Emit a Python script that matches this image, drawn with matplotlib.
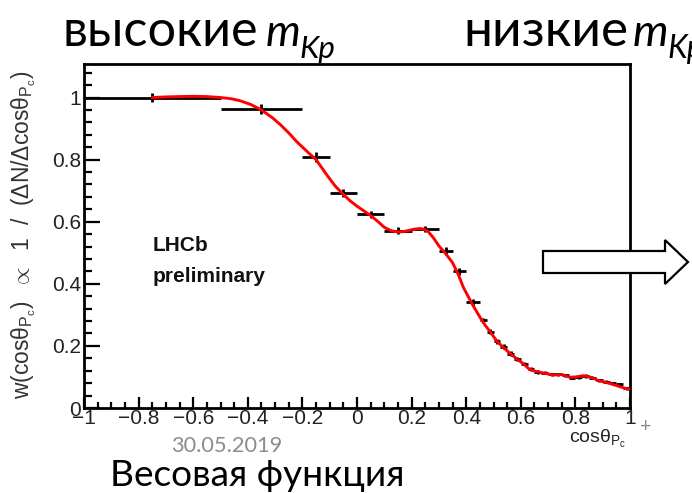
import matplotlib
matplotlib.use("Agg")
import matplotlib.pyplot as plt
from matplotlib.patches import Polygon
from matplotlib.ticker import MultipleLocator, FixedLocator, FuncFormatter

# Binned weights w(cos theta_Pc) with bin half-widths and uncertainties
bin_center = [-0.75, -0.35, -0.15, -0.05, 0.05, 0.15, 0.25, 0.325, 0.375, 0.425,
              0.4625, 0.4875, 0.5125, 0.5375, 0.5625, 0.5875, 0.6125, 0.6375,
              0.6625, 0.6875, 0.7125, 0.7375, 0.7625, 0.7875, 0.8125, 0.8375,
              0.8625, 0.8875, 0.9125, 0.9375, 0.9625, 0.9875]
bin_halfwidth = [0.25, 0.15, 0.05, 0.05, 0.05, 0.05, 0.05, 0.025, 0.025, 0.025,
                 0.0125, 0.0125, 0.0125, 0.0125, 0.0125, 0.0125, 0.0125, 0.0125,
                 0.0125, 0.0125, 0.0125, 0.0125, 0.0125, 0.0125, 0.0125, 0.0125,
                 0.0125, 0.0125, 0.0125, 0.0125, 0.0125, 0.0125]
weight = [1.000, 0.963, 0.808, 0.692, 0.624, 0.571, 0.577, 0.505, 0.440, 0.340,
          0.282, 0.245, 0.215, 0.198, 0.175, 0.158, 0.143, 0.125,
          0.115, 0.113, 0.108, 0.108, 0.106, 0.098, 0.099, 0.103,
          0.098, 0.090, 0.085, 0.080, 0.077, 0.064]
weight_err = [0.016, 0.015, 0.015, 0.013, 0.011, 0.012, 0.010, 0.012, 0.012, 0.012,
              0.009, 0.008, 0.008, 0.007, 0.007, 0.007, 0.006, 0.006,
              0.006, 0.005, 0.005, 0.005, 0.005, 0.005, 0.005, 0.005,
              0.005, 0.005, 0.005, 0.005, 0.005, 0.005]

# Smooth parametrisation of the weight function
fit_x = [-0.75, -0.70, -0.65, -0.60, -0.55, -0.50, -0.46, -0.43, -0.39, -0.35,
         -0.31, -0.28, -0.25, -0.22, -0.185, -0.15, -0.13, -0.11, -0.08, -0.05,
         -0.025, 0.00, 0.05, 0.08, 0.10, 0.125, 0.15, 0.17, 0.19, 0.21, 0.23,
         0.245, 0.26, 0.28, 0.30, 0.325, 0.35, 0.37, 0.39, 0.42, 0.45, 0.47,
         0.49, 0.51, 0.53, 0.56, 0.59, 0.61, 0.63, 0.65, 0.67, 0.72, 0.75,
         0.78, 0.80, 0.83, 0.86, 0.88, 0.93, 0.98, 1.00]
fit_y = [1.000, 1.002, 1.003, 1.004, 1.003, 1.000, 0.996, 0.990, 0.978, 0.960,
         0.935, 0.912, 0.886, 0.857, 0.828, 0.800, 0.775, 0.750, 0.715, 0.688,
         0.667, 0.650, 0.620, 0.598, 0.582, 0.571, 0.567, 0.568, 0.572, 0.576,
         0.578, 0.576, 0.569, 0.548, 0.522, 0.497, 0.468, 0.432, 0.388, 0.338,
         0.293, 0.266, 0.243, 0.218, 0.200, 0.176, 0.155, 0.142, 0.126, 0.119,
         0.115, 0.106, 0.108, 0.099, 0.100, 0.104, 0.098, 0.090, 0.078, 0.064,
         0.060]

x_ticks = [-1, -0.8, -0.6, -0.4, -0.2, 0, 0.2, 0.4, 0.6, 0.8, 1]
y_ticks = [0, 0.2, 0.4, 0.6, 0.8, 1]

AX_FONT = ["Liberation Sans", "DejaVu Sans"]
SLIDE_FONT = ["Lato", "DejaVu Sans"]

plt.rcParams["font.family"] = AX_FONT
plt.rcParams["mathtext.fontset"] = "custom"
plt.rcParams["mathtext.rm"] = "Liberation Sans"
plt.rcParams["mathtext.it"] = "Liberation Sans:italic"
plt.rcParams["mathtext.sf"] = "Liberation Sans"

W, H = 692, 493
fig = plt.figure(figsize=(W / 100, H / 100), dpi=100)
ax = fig.add_axes([84 / W, (H - 408) / H, (630 - 84) / W, (408 - 64) / H])

ax.errorbar(bin_center, weight, xerr=bin_halfwidth, yerr=weight_err,
            fmt="none", ecolor="black", elinewidth=2.0, capsize=0, zorder=2)
ax.plot(fit_x, fit_y, color="#ff0000", lw=2.1, solid_joinstyle="round",
        solid_capstyle="round", zorder=3)

ax.set_xlim(-1, 1)
ax.set_ylim(0, 1.108)
ax.xaxis.set_major_locator(FixedLocator(x_ticks))
ax.yaxis.set_major_locator(FixedLocator(y_ticks))
ax.xaxis.set_minor_locator(MultipleLocator(0.05))
ax.yaxis.set_minor_locator(MultipleLocator(0.04))


def fmt(v, _):
    return f"{v:g}".replace("-", "\u2212")


ax.xaxis.set_major_formatter(FuncFormatter(fmt))
ax.yaxis.set_major_formatter(FuncFormatter(fmt))

for sp in ax.spines.values():
    sp.set_linewidth(2.0)
ax.tick_params(which="both", direction="in", top=False, right=False, width=1.6,
               colors="black", labelsize=15, labelcolor="#222222")
ax.tick_params(axis="y", which="major", length=11.5, pad=2)
ax.tick_params(axis="y", which="minor", length=5.8)
ax.tick_params(axis="x", which="major", length=8, pad=1)
ax.tick_params(axis="x", which="minor", length=4.3)

# axis titles
sub = r"$_{\mathrm{P}_{\mathrm{c}}}$"
fig.text(24 / W, 1 - 235 / H,
         "w(cos$\\mathrm{\\theta}$" + sub + ")  $\\propto$  1  /  "
         "($\\mathrm{\\Delta}$N/$\\mathrm{\\Delta}$cos$\\mathrm{\\theta}$" + sub + ")",
         rotation=90, ha="center", va="center", fontsize=16.5, color="#333333",
         math_fontfamily="custom")
fig.text(626 / W, 1 - 439 / H, "cos$\\mathrm{\\theta}$" + sub,
         ha="right", va="center", fontsize=14, color="#222222",
         math_fontfamily="custom")

# experiment label
fig.text(153 / W, 1 - 246 / H, "LHCb", fontsize=15, fontweight="bold",
         color="#111111", va="center", ha="left")
fig.text(153 / W, 1 - 277 / H, "preliminary", fontsize=15,
         fontweight="bold", color="#111111", va="center", ha="left")

renderer = fig.canvas.get_renderer()


def fitted_text(x_px, y_px, s, width_px, **kw):
    """Place a text whose font size is scaled so it spans width_px pixels."""
    size0 = kw.pop("fontsize", 20)
    t = fig.text(x_px / W, 1 - y_px / H, s, fontsize=size0, **kw)
    w = t.get_window_extent(renderer).width
    t.set_fontsize(size0 * width_px / w)
    return t


def heading(x_px, y_px, word, width_px, gap_px):
    t = fitted_text(x_px, y_px, word, width_px, family=SLIDE_FONT,
                    va="baseline", ha="left")
    size = t.get_fontsize()
    bb = t.get_window_extent(renderer)
    m = fig.text((bb.x1 + gap_px) / W, 1 - y_px / H, "m", fontsize=size * 0.88,
                 family=SLIDE_FONT, style="italic", va="baseline", ha="left")
    bm = m.get_window_extent(renderer)
    fig.text((bm.x1 - 1) / W, 1 - (y_px + 12) / H, "Kp", fontsize=size * 0.62,
             family=SLIDE_FONT, style="italic", va="baseline", ha="left")


heading(62, 46, "высокие", 196, 8)
heading(463, 46, "низкие", 166, 5)

fitted_text(171, 452, "30.05.2019", 111, family=SLIDE_FONT, color="#8c8c8c",
            ha="left", va="baseline")
fig.text(640 / W, 1 - 432 / H, "+", fontsize=14, family=SLIDE_FONT,
         color="#8c8c8c", ha="left", va="baseline")
fitted_text(110, 486, "Весовая функция", 295, family=SLIDE_FONT,
            color="black", ha="left", va="baseline")

# block arrow
arrow_px = [(543, 251), (665, 251), (665, 240), (688, 262), (665, 284),
            (665, 273), (543, 273)]
arrow = Polygon([(x / W, 1 - y / H) for x, y in arrow_px], closed=True,
                transform=fig.transFigure, facecolor="white", edgecolor="black",
                linewidth=1.6, zorder=10)
fig.patches.append(arrow)

fig.savefig("out.png", dpi=100)
